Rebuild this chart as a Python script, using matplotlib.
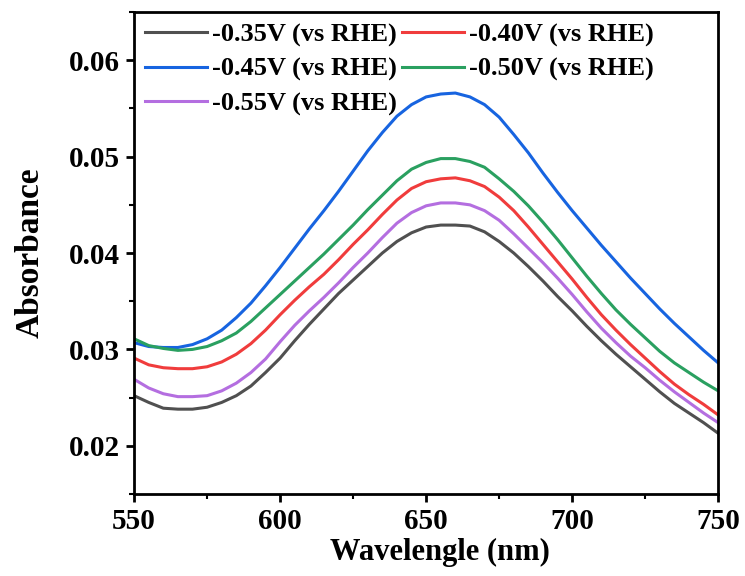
import numpy as np
import matplotlib
matplotlib.use("Agg")
import matplotlib.pyplot as plt
from matplotlib.ticker import MultipleLocator, FormatStrFormatter

wavelength = [550, 555, 560, 565, 570, 575, 580, 585, 590, 595,
              600, 605, 610, 615, 620, 625, 630, 635, 640, 645,
              650, 655, 660, 665, 670, 675, 680, 685, 690, 695,
              700, 705, 710, 715, 720, 725, 730, 735, 740, 745, 750]

a_035 = [0.0252, 0.0245, 0.0239, 0.0238, 0.0238, 0.0240, 0.0245, 0.0252, 0.0262, 0.0276,
         0.0291, 0.0309, 0.0326, 0.0342, 0.0358, 0.0372, 0.0386, 0.0400, 0.0412, 0.0421,
         0.0427, 0.0429, 0.0429, 0.0428, 0.0422, 0.0412, 0.0400, 0.0386, 0.0371, 0.0355,
         0.0340, 0.0324, 0.0309, 0.0295, 0.0282, 0.0269, 0.0256, 0.0244, 0.0234, 0.0224, 0.0213]
a_040 = [0.0291, 0.0284, 0.0281, 0.0280, 0.0280, 0.0282, 0.0287, 0.0295, 0.0306, 0.0320,
         0.0336, 0.0351, 0.0365, 0.0378, 0.0393, 0.0409, 0.0424, 0.0440, 0.0455, 0.0467,
         0.0474, 0.0477, 0.0478, 0.0475, 0.0469, 0.0458, 0.0444, 0.0427, 0.0409, 0.0391,
         0.0373, 0.0354, 0.0336, 0.0320, 0.0305, 0.0291, 0.0277, 0.0264, 0.0253, 0.0243, 0.0232]
a_045 = [0.0307, 0.0303, 0.0302, 0.0302, 0.0305, 0.0311, 0.0320, 0.0333, 0.0348, 0.0366,
         0.0385, 0.0405, 0.0425, 0.0444, 0.0464, 0.0485, 0.0506, 0.0525, 0.0542, 0.0554,
         0.0562, 0.0565, 0.0566, 0.0562, 0.0554, 0.0541, 0.0523, 0.0504, 0.0483, 0.0463,
         0.0444, 0.0426, 0.0408, 0.0391, 0.0374, 0.0358, 0.0342, 0.0327, 0.0313, 0.0299, 0.0286]
a_050 = [0.0311, 0.0304, 0.0301, 0.0299, 0.0300, 0.0303, 0.0309, 0.0317, 0.0329, 0.0343,
         0.0357, 0.0371, 0.0385, 0.0399, 0.0414, 0.0429, 0.0445, 0.0460, 0.0475, 0.0487,
         0.0494, 0.0498, 0.0498, 0.0495, 0.0489, 0.0477, 0.0464, 0.0449, 0.0432, 0.0414,
         0.0395, 0.0376, 0.0358, 0.0341, 0.0326, 0.0312, 0.0298, 0.0286, 0.0276, 0.0266, 0.0257]
a_055 = [0.0269, 0.0260, 0.0254, 0.0251, 0.0251, 0.0252, 0.0257, 0.0265, 0.0276, 0.0290,
         0.0308, 0.0325, 0.0340, 0.0354, 0.0369, 0.0385, 0.0400, 0.0416, 0.0431, 0.0442,
         0.0449, 0.0452, 0.0452, 0.0450, 0.0444, 0.0434, 0.0420, 0.0405, 0.0390, 0.0374,
         0.0357, 0.0339, 0.0322, 0.0307, 0.0293, 0.0281, 0.0268, 0.0256, 0.0245, 0.0234, 0.0224]

labels = ["-0.35V (vs RHE)", "-0.40V (vs RHE)", "-0.45V (vs RHE)",
          "-0.50V (vs RHE)", "-0.55V (vs RHE)"]
series = [a_035, a_040, a_045, a_050, a_055]
colors = ["#505050", "#f03c3c", "#1764e0", "#2aa060", "#b46ee0"]

plt.rcParams['font.family'] = ['Liberation Serif', 'DejaVu Serif']
plt.rcParams['font.weight'] = 'bold'

fig = plt.figure(figsize=(7.45, 5.76), dpi=100)
ax = fig.add_axes([0.180, 0.1424, 0.784, 0.8366])

handles = []
for y, c, lab in zip(series, colors, labels):
    h, = ax.plot(wavelength, y, color=c, lw=2.2, label=lab)
    handles.append(h)

ax.set_xlim(550, 750)
ax.set_ylim(0.015, 0.065)
ax.xaxis.set_major_locator(MultipleLocator(50))
ax.xaxis.set_minor_locator(MultipleLocator(25))
ax.yaxis.set_major_locator(MultipleLocator(0.01))
ax.yaxis.set_minor_locator(MultipleLocator(0.005))
ax.yaxis.set_major_formatter(FormatStrFormatter('%.2f'))

for s in ax.spines.values():
    s.set_linewidth(2)
ax.tick_params(which='major', direction='out', length=6, width=2, labelsize=21, pad=4)
ax.tick_params(which='minor', direction='out', length=3.5, width=1.5)
for lbl in ax.get_xticklabels() + ax.get_yticklabels():
    lbl.set_fontweight('bold')

ax.set_xlabel("Wavelengle (nm)", fontsize=22, fontweight='bold', labelpad=0)
ax.xaxis.set_label_coords(0.523, -0.092)
ax.set_ylabel("Absorbance", fontsize=24, fontweight='bold', labelpad=17)

order = [0, 2, 4, 1, 3]
ax.legend([handles[i] for i in order], [labels[i] for i in order],
          loc='upper left', ncol=2, frameon=False,
          prop={'weight': 'bold', 'size': 19},
          handlelength=2.35, handletextpad=0.2, columnspacing=0.2,
          labelspacing=0.41, borderaxespad=0.2, borderpad=0.2)

fig.savefig("out.png", dpi=100)
